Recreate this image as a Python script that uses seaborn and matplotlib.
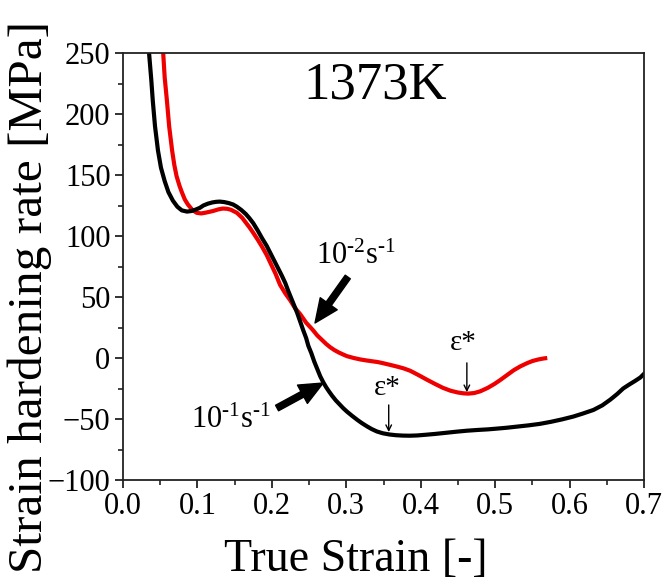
import matplotlib
matplotlib.use("Agg")
import matplotlib.pyplot as plt
import seaborn as sns
import pandas as pd
from matplotlib.ticker import MultipleLocator, FormatStrFormatter

# ---- data ----
strain_fast = [0.031, 0.033, 0.035, 0.038, 0.040, 0.043, 0.047, 0.051, 0.056, 0.061,
               0.067, 0.073, 0.079, 0.086, 0.092, 0.097, 0.103, 0.108, 0.114, 0.120,
               0.125, 0.130, 0.136, 0.142, 0.148, 0.153, 0.159, 0.165, 0.170, 0.175,
               0.181, 0.187, 0.193, 0.198, 0.203, 0.208, 0.213, 0.218, 0.222, 0.226,
               0.230, 0.234, 0.238, 0.242, 0.246, 0.249, 0.253, 0.257, 0.261, 0.265,
               0.269, 0.273, 0.277, 0.281, 0.286, 0.291, 0.296, 0.301, 0.308, 0.315,
               0.321, 0.328, 0.334, 0.341, 0.349, 0.358, 0.367, 0.376, 0.385, 0.395,
               0.407, 0.420, 0.434, 0.448, 0.462, 0.476, 0.490, 0.500, 0.515, 0.530,
               0.545, 0.560, 0.575, 0.590, 0.605, 0.618, 0.632, 0.644, 0.655, 0.664,
               0.672, 0.680, 0.688, 0.695, 0.705]
rate_fast = [290, 270, 250, 228, 211, 190, 170, 156, 145, 136,
             129, 124, 121, 120, 120.5, 121.5, 123, 125, 126.5, 127.5,
             128, 128.2, 127.8, 127, 125.8, 124, 121.3, 118, 114.5, 110.5,
             104.5, 98, 92, 86, 80, 74, 68, 61.5, 55, 49,
             43, 37, 30, 23, 16.5, 10, 4, -3, -9, -15,
             -19.8, -24, -27.6, -31, -34.8, -38, -41.2, -44, -47.5, -50.8,
             -53.4, -56.1, -58.2, -60.2, -61.7, -62.7, -63.3, -63.6, -63.7, -63.5,
             -62.9, -62.2, -61.3, -60.4, -59.6, -59, -58.5, -58, -57.2, -56.2,
             -55.2, -54, -52.3, -50.3, -48, -45.5, -42.6, -38.8, -34, -29.5,
             -25, -21.8, -18.8, -16, -10]

strain_slow = [0.050, 0.052, 0.054, 0.056, 0.059, 0.062, 0.066, 0.069, 0.072, 0.076,
               0.079, 0.083, 0.087, 0.093, 0.099, 0.105, 0.110, 0.116, 0.121, 0.128,
               0.134, 0.140, 0.145, 0.153, 0.160, 0.165, 0.170, 0.175, 0.181, 0.187,
               0.193, 0.198, 0.205, 0.211, 0.218, 0.225, 0.231, 0.238, 0.246, 0.255,
               0.261, 0.267, 0.273, 0.278, 0.284, 0.290, 0.296, 0.301, 0.310, 0.319,
               0.327, 0.335, 0.342, 0.349, 0.358, 0.368, 0.377, 0.386, 0.397, 0.409,
               0.420, 0.430, 0.440, 0.450, 0.458, 0.464, 0.472, 0.480, 0.490, 0.499,
               0.507, 0.516, 0.525, 0.534, 0.543, 0.550, 0.558, 0.565, 0.570]
rate_slow = [290, 270, 250, 230, 211, 190, 170, 158, 149, 141,
             136, 130, 126, 121.5, 119, 118.5, 119, 119.8, 120.5, 121.8,
             122.5, 122.3, 121.5, 119, 115, 111, 107, 102.6, 97, 91,
             84.5, 78, 69, 60, 53, 47, 41, 36, 29, 23,
             18.5, 15, 11.5, 9, 6.5, 4.5, 2.8, 1.5, 0, -1.2,
             -2, -2.7, -3.3, -4.2, -5.5, -7, -8.5, -10.5, -14, -18,
             -21.5, -24.5, -26.8, -28.3, -29, -29.2, -28.7, -27.3, -24.5, -21.3,
             -18, -14, -10, -6.8, -4.2, -2.5, -1.2, -0.4, 0]

x_ticks = [0.0, 0.1, 0.2, 0.3, 0.4, 0.5, 0.6, 0.7]
y_ticks = [-100, -50, 0, 50, 100, 150, 200, 250]

sns.set_theme(style="ticks")
plt.rcParams['font.family'] = ['Liberation Serif', 'DejaVu Serif']
plt.rcParams['mathtext.fontset'] = 'custom'
plt.rcParams['mathtext.rm'] = 'Liberation Serif'
plt.rcParams['mathtext.it'] = 'Liberation Serif:italic'
plt.rcParams['text.color'] = 'black'
plt.rcParams['axes.labelcolor'] = 'black'
plt.rcParams['xtick.color'] = '#222222'
plt.rcParams['ytick.color'] = '#222222'

fig = plt.figure(figsize=(6.66, 5.81), dpi=100)
ax = fig.add_axes([123/666, 1-480/581, (644-123)/666, (480-53)/581])

df_fast = pd.DataFrame({"strain": strain_fast, "rate": rate_fast})
df_slow = pd.DataFrame({"strain": strain_slow, "rate": rate_slow})
sns.lineplot(data=df_slow, x="strain", y="rate", ax=ax, color="#ee0000", lw=3.0,
             sort=False, solid_joinstyle='round', solid_capstyle='butt')
sns.lineplot(data=df_fast, x="strain", y="rate", ax=ax, color="black", lw=3.0,
             sort=False, solid_joinstyle='round', solid_capstyle='butt')

ax.set_xlim(0, 0.7)
ax.set_ylim(-100, 250)
ax.set_xticks(x_ticks)
ax.set_yticks(y_ticks)
ax.xaxis.set_minor_locator(MultipleLocator(0.05))
ax.yaxis.set_minor_locator(MultipleLocator(25))
ax.xaxis.set_major_formatter(FormatStrFormatter('%.1f'))
ax.tick_params(axis='both', which='major', direction='out', length=6, width=1.3,
               labelsize=22, labelcolor='black', pad=3)
ax.tick_params(axis='both', which='minor', direction='out', length=3.5, width=1.2)
ax.tick_params(top=False, right=False, which='both')
for s in ax.spines.values():
    s.set_visible(True)
    s.set_linewidth(1.3)
    s.set_color('#222222')

ax.set_xlabel("True Strain [-]", fontsize=33)
ax.set_ylabel("Strain hardening rate [MPa]", fontsize=35.5)
ax.xaxis.set_label_coords(0.447, -0.137)
ax.yaxis.set_label_coords(-0.136, 0.428)

ax.text(0.339, 223, "1373K", fontsize=38, ha='center', va='center')

thick = dict(facecolor='black', edgecolor='black', width=4.5, headwidth=15, headlength=17, shrink=0)
ax.annotate("", xy=(0.258, 28.7), xytext=(0.302, 66.4), arrowprops=thick)
ax.text(0.313, 83.6, r"$\mathregular{10^{\text{-}2}s^{\text{-}1}}$", fontsize=22, ha='center', va='center')
ax.annotate("", xy=(0.269, -20.5), xytext=(0.207, -41), arrowprops=thick)
ax.text(0.145, -51, r"$\mathregular{10^{\text{-}1}s^{\text{-}1}}$", fontsize=22, ha='center', va='center')

thin = dict(arrowstyle='->', color='black', lw=1.0, mutation_scale=10, shrinkA=0, shrinkB=0)
ax.annotate("", xy=(0.462, -28), xytext=(0.462, -4), arrowprops=thin)
ax.text(0.457, 12.3, "ε*", fontsize=21, ha='center', va='center')
ax.annotate("", xy=(0.357, -60.7), xytext=(0.357, -38.5), arrowprops=thin)
ax.text(0.355, -24.6, "ε*", fontsize=21, ha='center', va='center')

fig.savefig("out.png", dpi=100)
